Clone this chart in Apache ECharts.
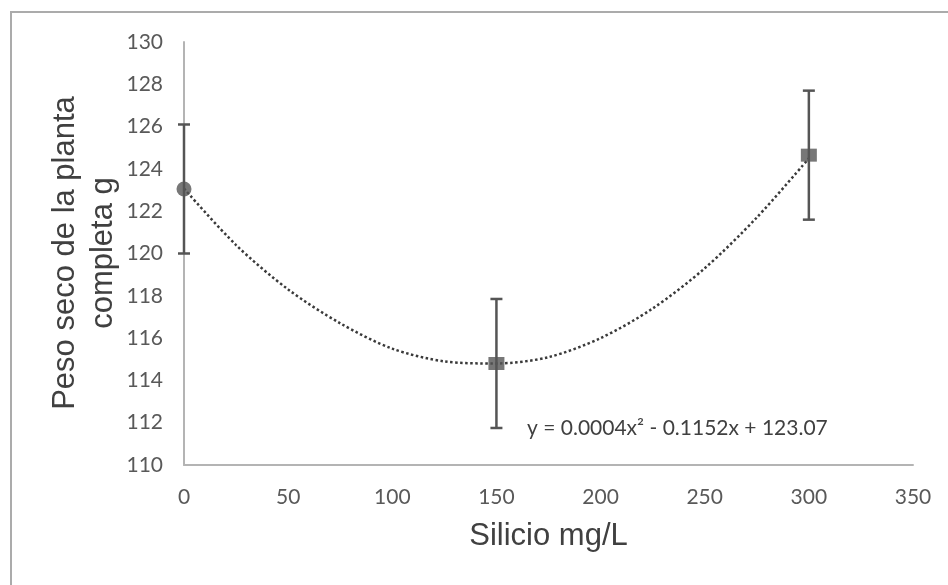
<!DOCTYPE html>
<html>
<head>
<meta charset="utf-8">
<script src="https://cdn.jsdelivr.net/npm/echarts@6/dist/echarts.min.js"></script>
<style>
html,body{margin:0;padding:0;background:#fff;}
#chart{width:948px;height:585px;}
</style>
</head>
<body>
<div id="chart"></div>
<script>
// Data
const siliconDose = [0, 150, 300];
const dryWeight = [123.05, 114.8, 124.65];
const errorAmount = [3.05, 3.05, 3.05];
const markerShapes = ['circle', 'rect', 'rect'];
// Dotted polynomial trend line
const trendX = [0, 25, 50, 75, 100, 125, 150, 175, 200, 225, 250, 275, 300];
const trendY = [123.07, 120.4, 118.3, 116.7, 115.5, 114.9, 114.8, 115.1, 116.0, 117.4, 119.3, 121.7, 124.5];
const xAxisTitle = 'Silicio mg/L';
const yAxisTitle = 'Peso seco de la planta\ncompleta g';
const equationText = 'y = 0.0004x² - 0.1152x + 123.07';

const chart = echarts.init(document.getElementById('chart'));

const pointData = siliconDose.map((x, i) => ({
  value: [x, dryWeight[i]],
  symbol: markerShapes[i],
  symbolSize: markerShapes[i] === 'circle' ? 15 : [16, 13]
}));
const errorData = siliconDose.map((x, i) => [x, dryWeight[i] - errorAmount[i], dryWeight[i] + errorAmount[i]]);
const trendData = trendX.map((x, i) => [x, trendY[i]]);

const tickFont = { fontFamily: 'Lato', fontSize: 21, color: '#595959' };
const axisLine = { show: true, lineStyle: { color: '#b4b4b4', width: 2 } };

chart.setOption({
  animation: false,
  backgroundColor: '#ffffff',
  grid: { left: 184, right: 35, top: 42, bottom: 120 },
  xAxis: {
    type: 'value', min: 0, max: 350, interval: 50,
    axisLine: axisLine,
    axisTick: { show: false },
    splitLine: { show: false },
    axisLabel: Object.assign({ margin: 22 }, tickFont),
    name: xAxisTitle,
    nameLocation: 'middle',
    nameGap: 56,
    nameTextStyle: { fontFamily: 'Liberation Sans', fontSize: 31, color: '#404040' }
  },
  yAxis: {
    type: 'value', min: 110, max: 130, interval: 2,
    axisLine: axisLine,
    axisTick: { show: false },
    splitLine: { show: false },
    axisLabel: Object.assign({ margin: 21 }, tickFont)
  },
  graphic: [
    {
      type: 'rect', silent: true, z: -10,
      shape: { x: 11, y: 12, width: 1000, height: 1000 },
      style: { fill: 'none', stroke: '#ababab', lineWidth: 2 }
    },
    {
      type: 'text', silent: true,
      x: 84, y: 253, rotation: Math.PI / 2,
      style: {
        text: yAxisTitle, fontFamily: 'Liberation Sans', fontSize: 31,
        lineHeight: 38, fill: '#404040', align: 'center', verticalAlign: 'middle'
      }
    },
    {
      type: 'text', silent: true,
      x: 527, y: 428,
      style: {
        text: equationText, fontFamily: 'Lato', fontSize: 21,
        fill: '#404040', align: 'left', verticalAlign: 'middle'
      }
    }
  ],
  series: [
    {
      type: 'line',
      data: trendData,
      smooth: 0.3,
      showSymbol: false,
      lineStyle: { color: '#3a3a3a', width: 2.5, type: [2.5, 2.5] },
      z: 2
    },
    {
      type: 'custom',
      data: errorData,
      encode: { x: 0, y: [1, 2] },
      renderItem: function (params, api) {
        const x = api.value(0);
        const lo = api.coord([x, api.value(1)]);
        const hi = api.coord([x, api.value(2)]);
        const half = 6;
        const style = { stroke: '#555555', lineWidth: 2.5 };
        return {
          type: 'group',
          children: [
            { type: 'line', shape: { x1: lo[0], y1: lo[1], x2: hi[0], y2: hi[1] }, style: style },
            { type: 'line', shape: { x1: lo[0] - half, y1: lo[1], x2: lo[0] + half, y2: lo[1] }, style: style },
            { type: 'line', shape: { x1: hi[0] - half, y1: hi[1], x2: hi[0] + half, y2: hi[1] }, style: style }
          ]
        };
      },
      z: 3
    },
    {
      type: 'scatter',
      data: pointData,
      itemStyle: { color: '#555555' },
      z: 4
    }
  ]
});
</script>
</body>
</html>
